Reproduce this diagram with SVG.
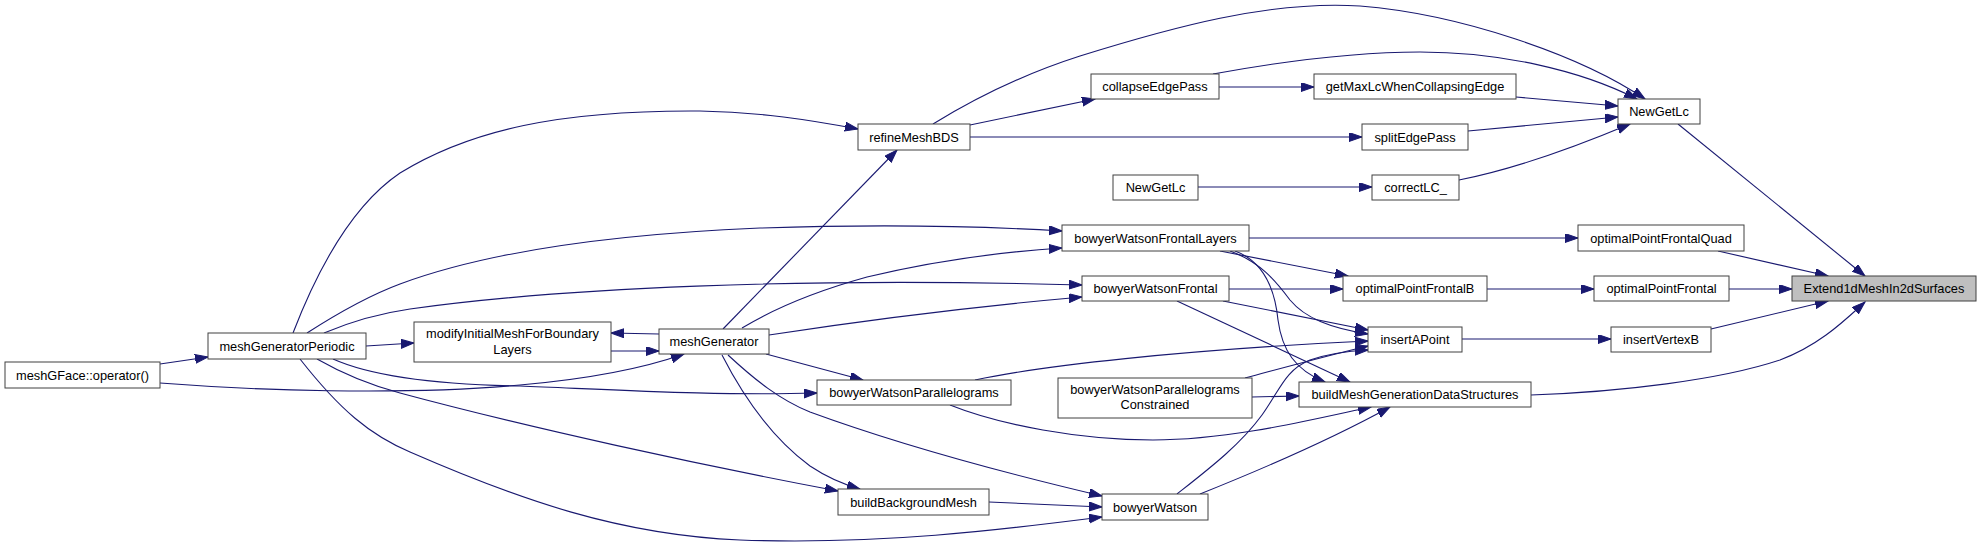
<svg xmlns="http://www.w3.org/2000/svg" width="1981" height="547" viewBox="0 0 1981 547">
<style>
.n rect{fill:#ffffff;stroke:#404040;stroke-width:1}
.n.root rect{fill:#bfbfbf}
.n text{font-family:"Liberation Sans",Arial,sans-serif;font-size:12.8px;fill:#000000;text-anchor:middle}
.e path{fill:none;stroke:#191970;stroke-width:1.1;marker-end:url(#ah)}
</style>
<defs>
<marker id="ah" markerUnits="userSpaceOnUse" markerWidth="14" markerHeight="10" refX="13" refY="4.5" orient="auto">
<path d="M0,0 L13,4.5 L0,9 z" fill="#191970" stroke="#191970" stroke-width="1"/>
</marker>
</defs>
<rect x="0" y="0" width="1981" height="547" fill="#ffffff"/>
<g id="edges" class="e">
<path d="M160,364 L208,357"/>
<path d="M160,383 C250,390 400,396 520,385 C600,378 650,366 684,354"/>
<path d="M366,346 L414,343"/>
<path d="M611,351 L659,351"/>
<path d="M659,334 L611,333"/>
<path d="M293,333 C325,250 360,200 400,173 C470,130 560,110 700,111 C760,112 810,120 858,129"/>
<path d="M307,333 C335,315 365,297 400,284 C500,247 640,233 760,228 C880,224 980,226 1062,231"/>
<path d="M324,333 C350,322 375,314 410,309 C560,288 800,277 1082,285"/>
<path d="M723,329 L897,150"/>
<path d="M742,328 C780,305 820,290 867,277 C930,262 1000,252 1062,248"/>
<path d="M769,335 C880,318 980,306 1082,297"/>
<path d="M766,354 L863,380"/>
<path d="M722,355 C745,400 775,440 810,466 C825,476 842,484 860,489"/>
<path d="M728,355 C755,380 780,400 810,412 C900,445 1000,472 1102,496"/>
<path d="M333,359 C380,380 460,385 520,386 C620,390 720,396 817,393"/>
<path d="M317,359 C345,375 370,385 400,393 C530,428 700,465 838,491"/>
<path d="M300,359 C340,410 370,435 410,452 C520,500 620,535 740,540 C880,545 1000,530 1102,517"/>
<path d="M970,125 L1095,99"/>
<path d="M1219,87 L1314,87"/>
<path d="M970,137 L1362,137"/>
<path d="M933,124 C980,95 1030,72 1080,56 C1170,28 1270,0 1360,6 C1460,14 1580,55 1645,99"/>
<path d="M1213,74 C1290,60 1360,52 1420,52 C1500,52 1580,70 1637,99"/>
<path d="M1516,97 L1618,106"/>
<path d="M1468,131 L1618,117"/>
<path d="M1459,180 C1520,168 1580,145 1630,124"/>
<path d="M1198,187 L1372,187"/>
<path d="M1249,238 L1578,238"/>
<path d="M1220,251 L1348,276"/>
<path d="M1230,251 C1260,262 1275,280 1290,300 C1305,318 1330,328 1368,334"/>
<path d="M1235,251 C1265,262 1275,290 1278,320 C1282,350 1295,370 1325,382"/>
<path d="M1229,289 L1343,289"/>
<path d="M1223,301 L1368,330"/>
<path d="M1177,301 L1350,382"/>
<path d="M1487,289 L1594,289"/>
<path d="M1729,289 L1792,289"/>
<path d="M1718,251 L1828,276"/>
<path d="M1711,329 L1828,301"/>
<path d="M1678,124 L1865,276"/>
<path d="M1531,395 C1620,392 1720,380 1780,360 C1820,345 1845,320 1865,302"/>
<path d="M1462,339 L1611,339"/>
<path d="M975,380 C1040,366 1180,350 1368,341"/>
<path d="M1245,378 C1290,366 1330,355 1368,346"/>
<path d="M1252,397 L1299,396"/>
<path d="M1177,494 C1210,468 1240,445 1262,415 C1280,390 1285,370 1310,360 C1330,353 1350,351 1368,350"/>
<path d="M1200,494 C1260,470 1330,440 1390,407"/>
<path d="M950,405 C1000,425 1080,440 1153,440 C1230,440 1310,420 1371,407"/>
<path d="M989,502 L1102,507"/>
</g>
<g id="n_meshGFace_operator" class="n"><rect x="5" y="362" width="155" height="26"/><text x="82.5" y="379.5">meshGFace::operator()</text></g>
<g id="n_meshGeneratorPeriodic" class="n"><rect x="208" y="333" width="158" height="26"/><text x="287" y="350.5">meshGeneratorPeriodic</text></g>
<g id="n_modifyInitialMeshForBoundaryLayers" class="n"><rect x="414" y="322" width="197" height="40"/><text x="512.5" y="338">modifyInitialMeshForBoundary</text><text x="512.5" y="354">Layers</text></g>
<g id="n_meshGenerator" class="n"><rect x="659" y="329" width="110" height="25"/><text x="714" y="346">meshGenerator</text></g>
<g id="n_refineMeshBDS" class="n"><rect x="858" y="124" width="112" height="26"/><text x="914" y="141.5">refineMeshBDS</text></g>
<g id="n_collapseEdgePass" class="n"><rect x="1091" y="74" width="128" height="25"/><text x="1155" y="91">collapseEdgePass</text></g>
<g id="n_getMaxLcWhenCollapsingEdge" class="n"><rect x="1314" y="74" width="202" height="25"/><text x="1415" y="91">getMaxLcWhenCollapsingEdge</text></g>
<g id="n_NewGetLc_right" class="n"><rect x="1618" y="99" width="82" height="25"/><text x="1659" y="116">NewGetLc</text></g>
<g id="n_splitEdgePass" class="n"><rect x="1362" y="124" width="106" height="26"/><text x="1415" y="141.5">splitEdgePass</text></g>
<g id="n_NewGetLc_left" class="n"><rect x="1113" y="175" width="85" height="25"/><text x="1155.5" y="192">NewGetLc</text></g>
<g id="n_correctLC_" class="n"><rect x="1372" y="175" width="87" height="25"/><text x="1415.5" y="192">correctLC_</text></g>
<g id="n_bowyerWatsonFrontalLayers" class="n"><rect x="1062" y="225" width="187" height="26"/><text x="1155.5" y="242.5">bowyerWatsonFrontalLayers</text></g>
<g id="n_optimalPointFrontalQuad" class="n"><rect x="1578" y="225" width="166" height="26"/><text x="1661" y="242.5">optimalPointFrontalQuad</text></g>
<g id="n_bowyerWatsonFrontal" class="n"><rect x="1082" y="276" width="147" height="25"/><text x="1155.5" y="293">bowyerWatsonFrontal</text></g>
<g id="n_optimalPointFrontalB" class="n"><rect x="1343" y="276" width="144" height="25"/><text x="1415" y="293">optimalPointFrontalB</text></g>
<g id="n_optimalPointFrontal" class="n"><rect x="1594" y="276" width="135" height="25"/><text x="1661.5" y="293">optimalPointFrontal</text></g>
<g id="n_Extend1dMeshIn2dSurfaces" class="n root"><rect x="1792" y="276" width="184" height="25"/><text x="1884" y="293">Extend1dMeshIn2dSurfaces</text></g>
<g id="n_insertAPoint" class="n"><rect x="1368" y="327" width="94" height="25"/><text x="1415" y="344">insertAPoint</text></g>
<g id="n_insertVertexB" class="n"><rect x="1611" y="327" width="100" height="25"/><text x="1661" y="344">insertVertexB</text></g>
<g id="n_bowyerWatsonParallelograms" class="n"><rect x="817" y="380" width="194" height="25"/><text x="914" y="397">bowyerWatsonParallelograms</text></g>
<g id="n_bowyerWatsonParallelogramsConstrained" class="n"><rect x="1058" y="378" width="194" height="40"/><text x="1155" y="393.5">bowyerWatsonParallelograms</text><text x="1155" y="409">Constrained</text></g>
<g id="n_buildMeshGenerationDataStructures" class="n"><rect x="1299" y="382" width="232" height="25"/><text x="1415" y="399">buildMeshGenerationDataStructures</text></g>
<g id="n_buildBackgroundMesh" class="n"><rect x="838" y="489" width="151" height="26"/><text x="913.5" y="506.5">buildBackgroundMesh</text></g>
<g id="n_bowyerWatson" class="n"><rect x="1102" y="494" width="106" height="26"/><text x="1155" y="511.5">bowyerWatson</text></g>
</svg>
